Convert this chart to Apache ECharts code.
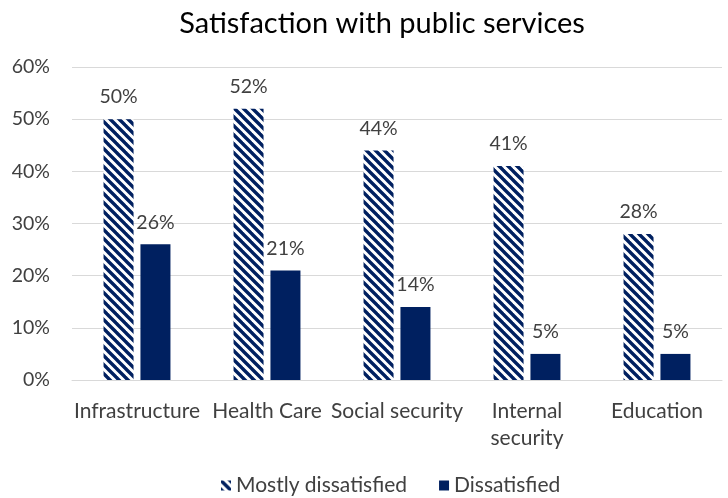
<!DOCTYPE html>
<html>
<head>
<meta charset="utf-8">
<script src="https://cdn.jsdelivr.net/npm/echarts@6/dist/echarts.min.js"></script>
<style>
  html, body { margin: 0; padding: 0; background: #ffffff; }
  #chart { width: 728px; height: 498px; }
</style>
</head>
<body>
<div id="chart"></div>
<script>
// Survey results, share of respondents (%)
const categories = ['Infrastructure', 'Health Care', 'Social security', 'Internal\nsecurity', 'Education'];
const mostlyDissatisfied = [50, 52, 44, 41, 28];
const dissatisfied = [26, 21, 14, 5, 5];
const yTicks = [0, 10, 20, 30, 40, 50, 60];

const NAVY = '#002060';
const TEXT = '#404040';
const FONT = 'Lato, "Open Sans", sans-serif';

// Diagonal hatch fill ("\\" stripes) for the first series
function hatchPattern() {
  const size = 9;
  const c = document.createElement('canvas');
  c.width = size; c.height = size;
  const ctx = c.getContext('2d');
  ctx.fillStyle = '#ffffff';
  ctx.fillRect(0, 0, size, size);
  ctx.strokeStyle = NAVY;
  ctx.lineWidth = 3.4;
  ctx.lineCap = 'square';
  for (let k = -1; k <= 1; k++) {
    ctx.beginPath();
    ctx.moveTo(k * size - 2, -2);
    ctx.lineTo(k * size + size + 2, size + 2);
    ctx.stroke();
  }
  return c;
}

const chart = echarts.init(document.getElementById('chart'), null, { renderer: 'canvas' });

const labelStyle = {
  show: true,
  position: 'top',
  distance: 12,
  formatter: '{c}%',
  color: TEXT,
  fontFamily: FONT,
  fontSize: 19.5
};

chart.setOption({
  backgroundColor: '#ffffff',
  animation: false,
  title: {
    text: 'Satisfaction with public services',
    left: 377,
    textAlign: 'center',
    top: 4,
    textStyle: { color: '#000000', fontFamily: FONT, fontSize: 29, fontWeight: 'normal' }
  },
  legend: {
    top: 470,
    left: 216,
    itemWidth: 10,
    itemHeight: 10,
    itemGap: 32,
    icon: 'rect',
    textStyle: { color: TEXT, fontFamily: FONT, fontSize: 21 },
    data: ['Mostly dissatisfied', 'Dissatisfied']
  },
  grid: { left: 72, right: 6, top: 67, bottom: 118, containLabel: false },
  xAxis: {
    type: 'category',
    data: categories,
    axisLine: { show: true, lineStyle: { color: '#d9d9d9', width: 1 } },
    axisTick: { show: false },
    axisLabel: {
      color: TEXT,
      fontFamily: FONT,
      fontSize: 21,
      margin: 18,
      interval: 0,
      lineHeight: 27
    }
  },
  yAxis: {
    type: 'value',
    min: yTicks[0],
    max: yTicks[yTicks.length - 1],
    interval: 10,
    axisLine: { show: false },
    axisTick: { show: false },
    axisLabel: {
      formatter: '{value}%',
      color: TEXT,
      fontFamily: FONT,
      fontSize: 19.5,
      margin: 22
    },
    splitLine: { lineStyle: { color: '#d9d9d9', width: 1 } }
  },
  series: [
    {
      name: 'Mostly dissatisfied',
      type: 'bar',
      data: mostlyDissatisfied,
      barWidth: 30,
      barGap: '23%',
      itemStyle: { color: { image: hatchPattern(), repeat: 'repeat' } },
      label: labelStyle
    },
    {
      name: 'Dissatisfied',
      type: 'bar',
      data: dissatisfied,
      barWidth: 30,
      itemStyle: { color: NAVY },
      label: labelStyle
    }
  ]
});
</script>
</body>
</html>
